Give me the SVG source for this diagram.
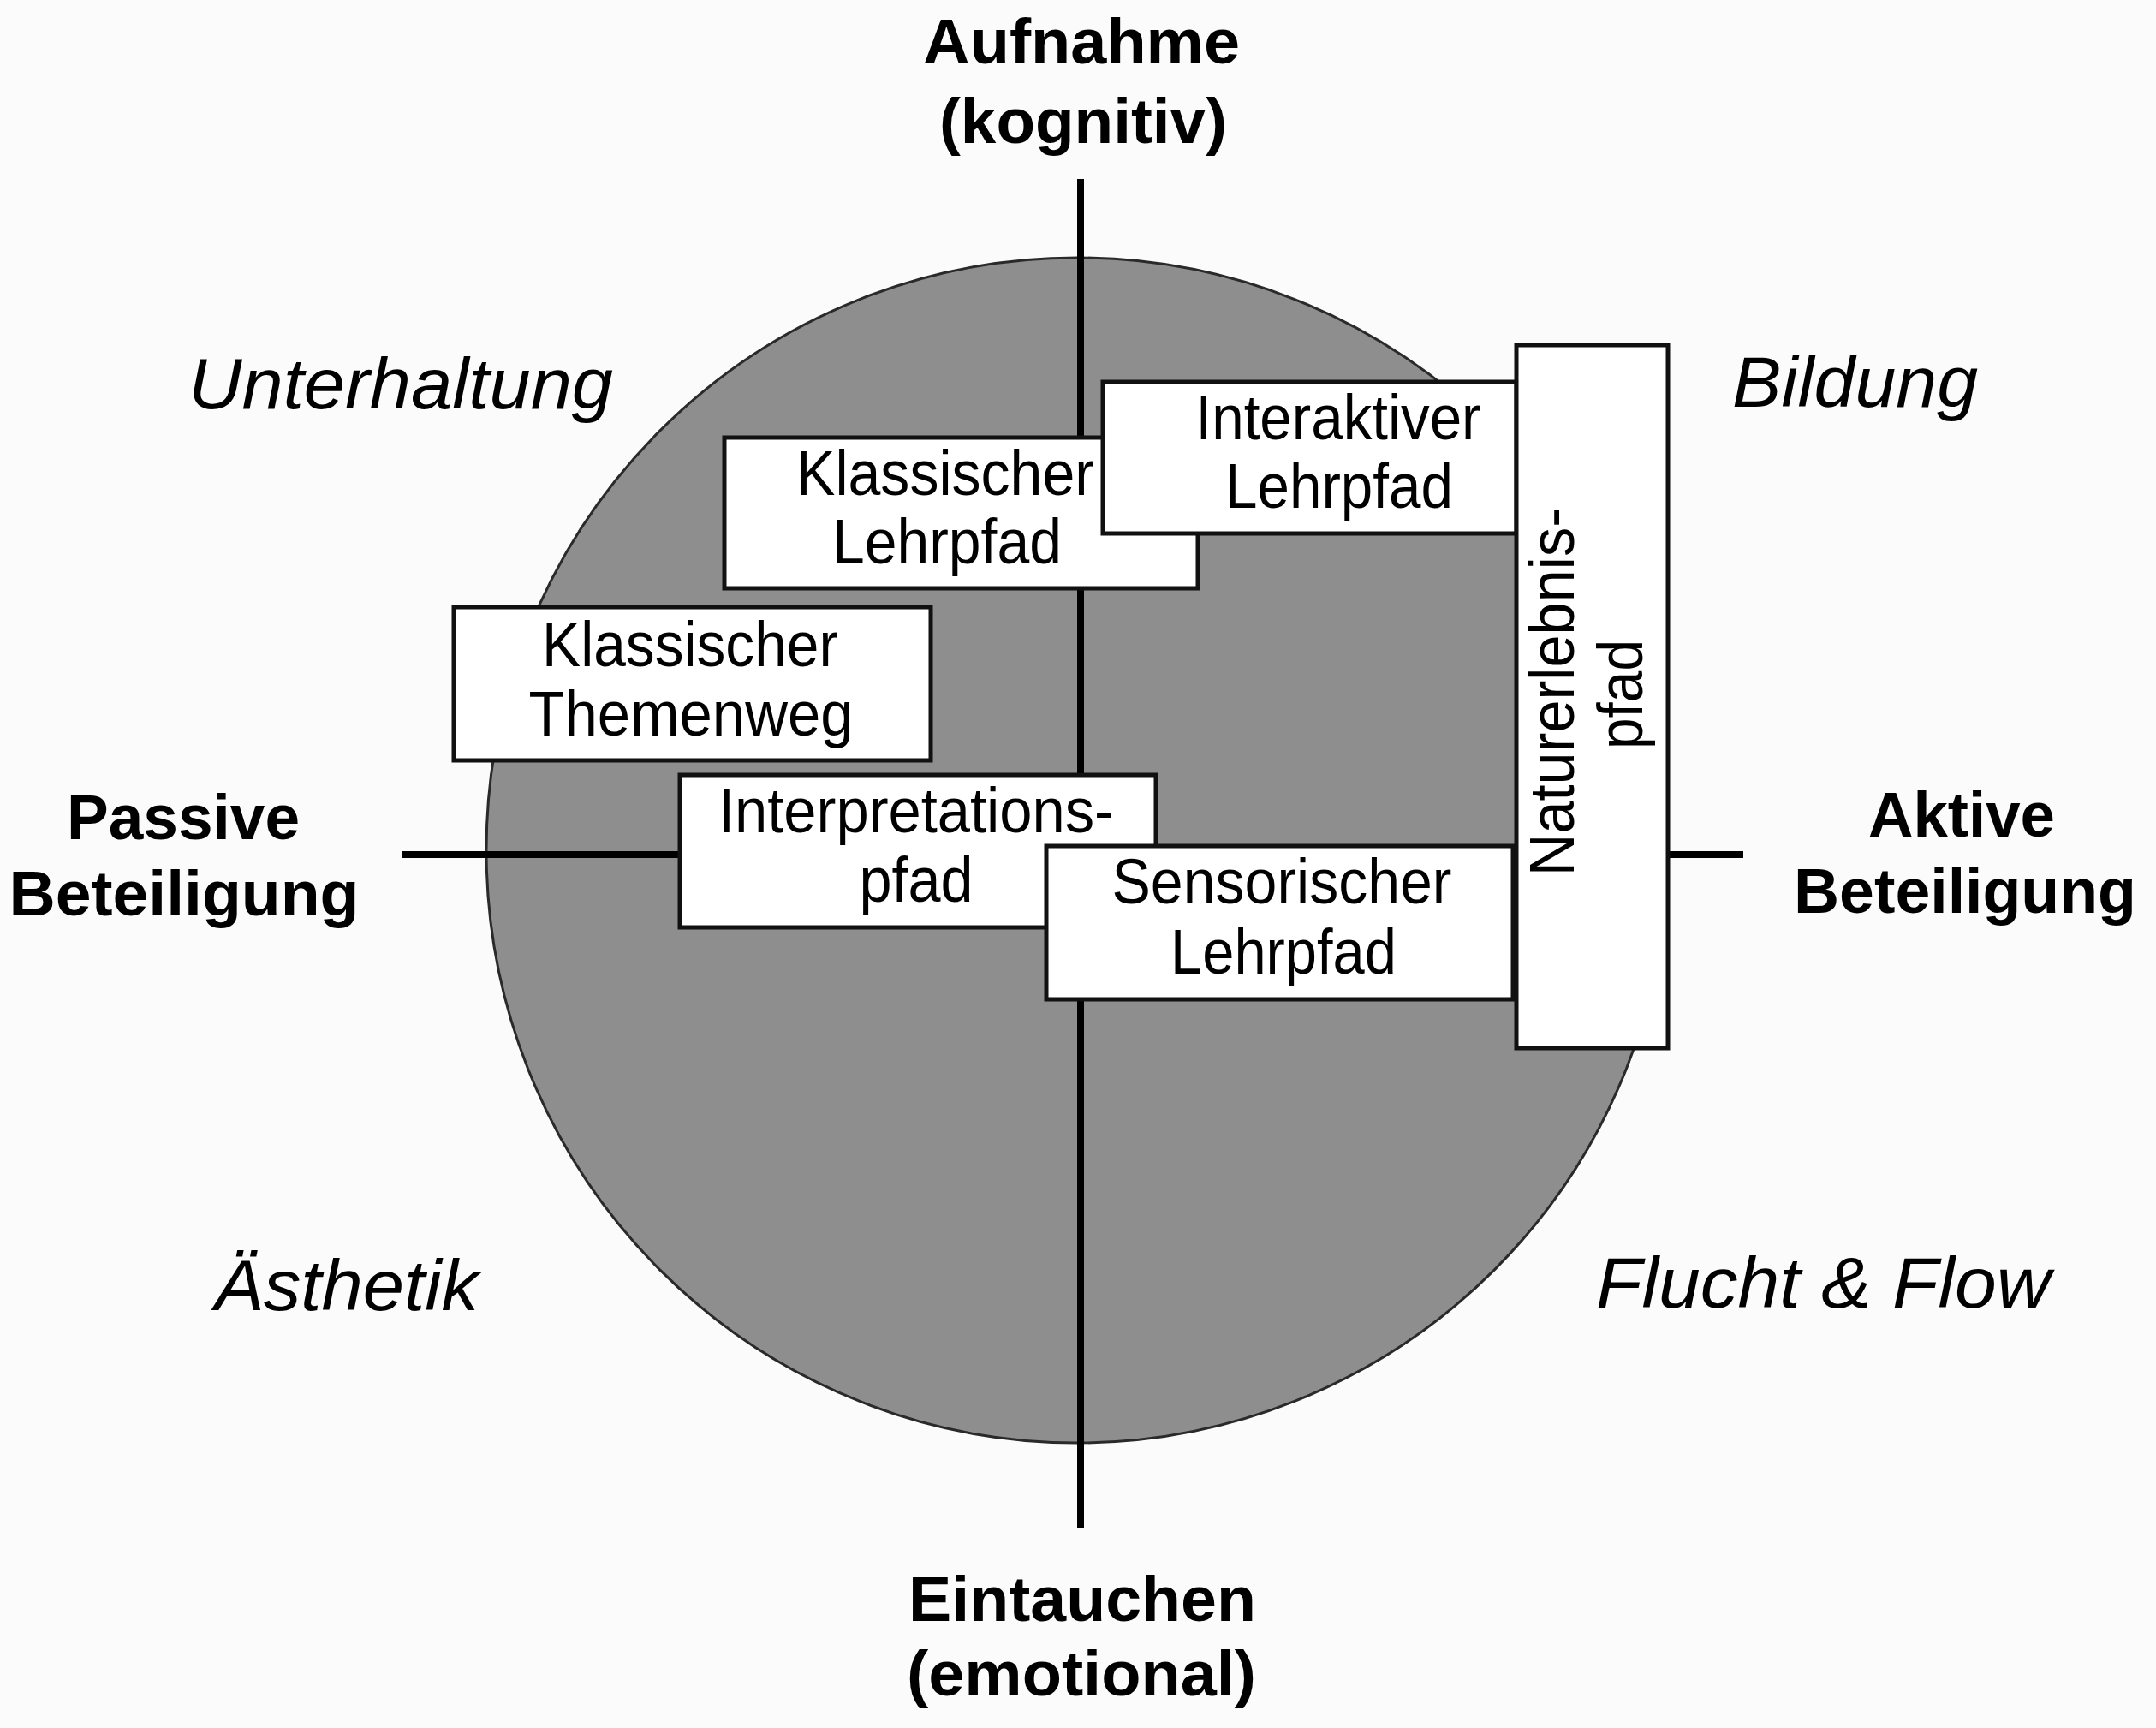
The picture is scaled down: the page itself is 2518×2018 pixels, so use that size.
<svg xmlns="http://www.w3.org/2000/svg" width="2518" height="2018" viewBox="0 0 2518 2018">
<style>
.bg{fill:#fbfbfb}
.disc{fill:#8e8e8e;stroke:#2a2a2a;stroke-width:3}
.axis{stroke:#000;stroke-width:8;fill:none}
.box{fill:#fff;stroke:#111;stroke-width:5}
.bt{font-family:"Liberation Sans",Arial,sans-serif;font-size:74px;fill:#000;text-anchor:middle}
.ax{font-family:"Liberation Sans",Arial,sans-serif;font-size:75px;font-weight:bold;fill:#000;text-anchor:middle}
.q{font-family:"Liberation Sans",Arial,sans-serif;font-size:84px;font-style:italic;fill:#000}
</style>
<rect class="bg" x="0" y="0" width="2518" height="2018"/>
<g id="disc"><ellipse class="disc" cx="1258" cy="993" rx="690" ry="692"/></g>
<g id="connectors">
<line class="axis" x1="1262" y1="209" x2="1262" y2="1785"/>
<line class="axis" x1="469" y1="998" x2="2036" y2="998"/>
</g>
<g id="node-klassischer-themenweg">
<rect class="box" x="530" y="709" width="557" height="179"/>
<text class="bt" x="806" y="778" textLength="346" lengthAdjust="spacingAndGlyphs">Klassischer</text>
<text class="bt" x="807" y="859" textLength="379" lengthAdjust="spacingAndGlyphs">Themenweg</text>
</g>
<g id="node-klassischer-lehrpfad">
<rect class="box" x="846" y="511" width="553" height="176"/>
<text class="bt" x="1104" y="578" textLength="348" lengthAdjust="spacingAndGlyphs">Klassischer</text>
<text class="bt" x="1106" y="658" textLength="268" lengthAdjust="spacingAndGlyphs">Lehrpfad</text>
</g>
<g id="node-interaktiver-lehrpfad">
<rect class="box" x="1288" y="446" width="483" height="177"/>
<text class="bt" x="1563" y="513" textLength="333" lengthAdjust="spacingAndGlyphs">Interaktiver</text>
<text class="bt" x="1564" y="593" textLength="266" lengthAdjust="spacingAndGlyphs">Lehrpfad</text>
</g>
<g id="node-interpretationspfad">
<rect class="box" x="794" y="905" width="556" height="178"/>
<text class="bt" x="1070" y="972" textLength="462" lengthAdjust="spacingAndGlyphs">Interpretations-</text>
<text class="bt" x="1070" y="1053" textLength="133" lengthAdjust="spacingAndGlyphs">pfad</text>
</g>
<g id="node-sensorischer-lehrpfad">
<rect class="box" x="1222" y="988" width="545" height="179"/>
<text class="bt" x="1497" y="1055" textLength="397" lengthAdjust="spacingAndGlyphs">Sensorischer</text>
<text class="bt" x="1499" y="1137" textLength="264" lengthAdjust="spacingAndGlyphs">Lehrpfad</text>
</g>
<g id="node-naturerlebnispfad">
<rect class="box" x="1771" y="403" width="177" height="821"/>
<g transform="translate(1860,810) rotate(-90)">
<text class="bt" x="2" y="-22" textLength="430" lengthAdjust="spacingAndGlyphs">Naturerlebnis-</text>
<text class="bt" x="-1" y="58" textLength="128" lengthAdjust="spacingAndGlyphs">pfad</text>
</g>
</g>
<g id="axis-labels">
<text class="ax" x="1263" y="74" textLength="370" lengthAdjust="spacingAndGlyphs">Aufnahme</text>
<text class="ax" x="1265" y="167" textLength="336" lengthAdjust="spacingAndGlyphs">(kognitiv)</text>
<text class="ax" x="214" y="980" textLength="272" lengthAdjust="spacingAndGlyphs">Passive</text>
<text class="ax" x="215" y="1069" textLength="409" lengthAdjust="spacingAndGlyphs">Beteiligung</text>
<text class="ax" x="2291" y="977" textLength="218" lengthAdjust="spacingAndGlyphs">Aktive</text>
<text class="ax" x="2295" y="1066" textLength="400" lengthAdjust="spacingAndGlyphs">Beteiligung</text>
<text class="ax" x="1264" y="1893" textLength="406" lengthAdjust="spacingAndGlyphs">Eintauchen</text>
<text class="ax" x="1263" y="1980" textLength="408" lengthAdjust="spacingAndGlyphs">(emotional)</text>
</g>
<g id="quadrant-labels">
<text class="q" x="220" y="477" textLength="496" lengthAdjust="spacingAndGlyphs">Unterhaltung</text>
<text class="q" x="2023" y="475" textLength="287" lengthAdjust="spacingAndGlyphs">Bildung</text>
<text class="q" x="250" y="1530" textLength="309" lengthAdjust="spacingAndGlyphs">Ästhetik</text>
<text class="q" x="1864" y="1527" textLength="531" lengthAdjust="spacingAndGlyphs">Flucht &amp; Flow</text>
</g>
</svg>
